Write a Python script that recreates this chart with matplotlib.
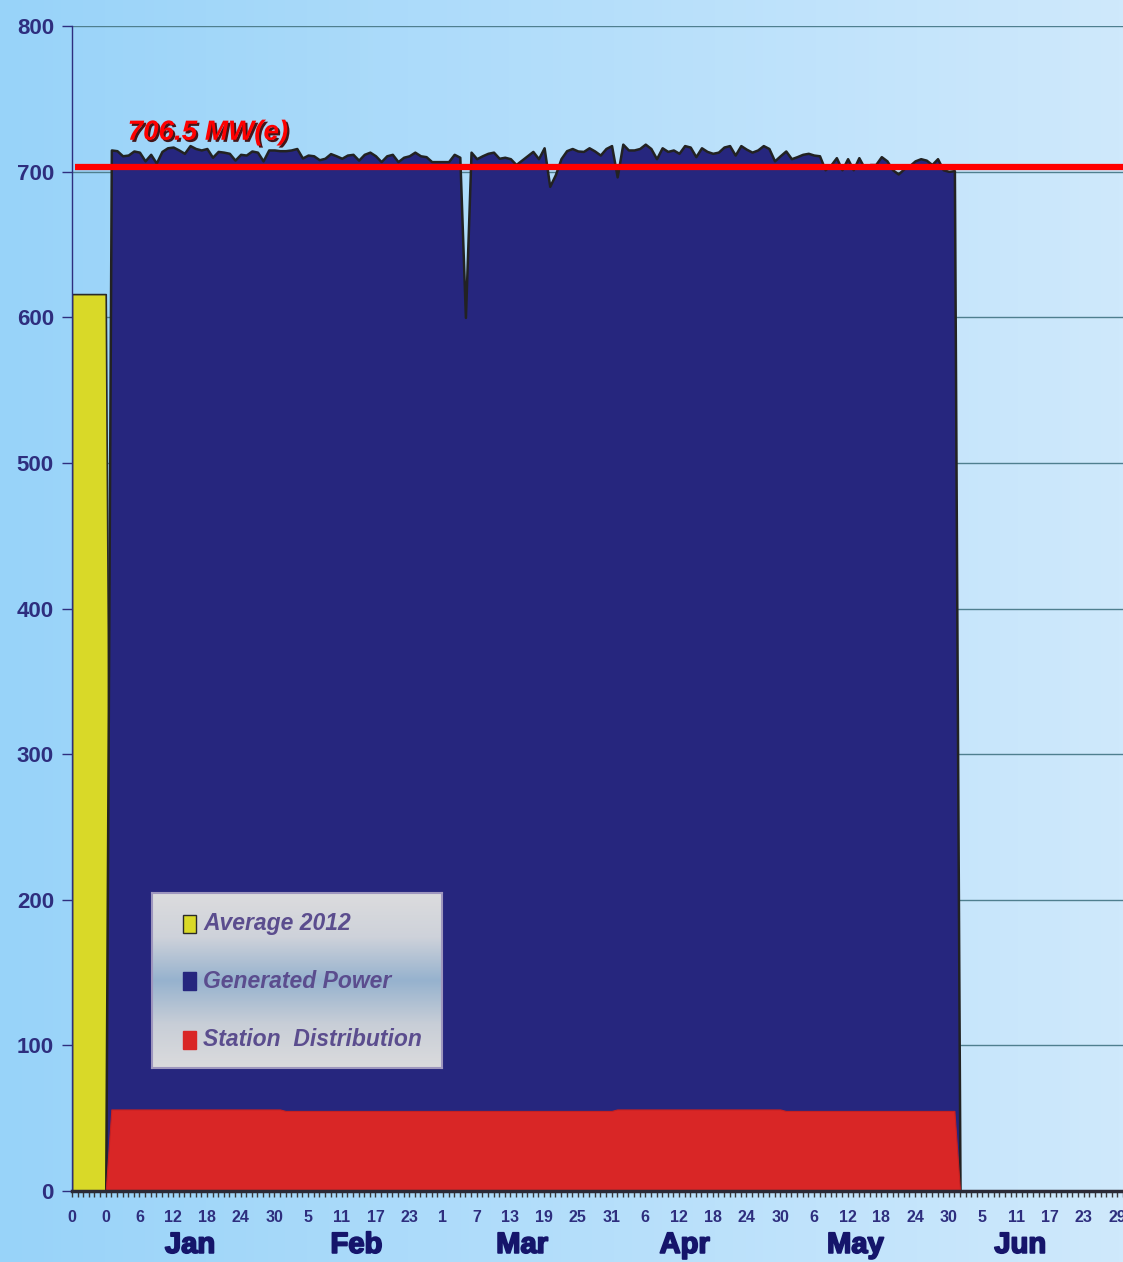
import numpy as np
import pandas as pd
import matplotlib
matplotlib.use("Agg")
import matplotlib.pyplot as plt
from matplotlib.patches import Rectangle
import matplotlib.patheffects as pe

# ---- данные (читались с картинки) ----
avg_2012_value = 616          # Average 2012, первые 7 позиций
avg_2012_len = 7

gen_jan = [715, 714.5, 711, 711.5, 714.3, 713.5, 707.5, 712, 706, 714, 716.5, 717, 715, 712.7, 718, 716,
           715, 716, 710, 714, 713.5, 712.7, 708, 712, 711.5, 714.3, 713.5, 707.5, 715, 715, 714.5]
gen_feb = [714.5, 715, 716, 709.5, 711.5, 711, 708.3, 709.3, 712.5, 711, 709.3, 711.5, 712, 708, 712, 713.5,
           711, 707, 711, 712, 707, 710, 711, 713.5, 711, 710.4, 707, 707]
gen_mar = [707, 707, 712, 710, 600, 713.5, 709, 711, 712.7, 713.5, 709.3, 710, 709, 705, 708, 711,
           714, 709, 716.5, 690, 698, 709, 714.5, 716, 714.3, 714, 716.5, 714.3, 711.5, 716, 718]
gen_apr = [696.5, 719, 715, 715, 716, 719, 716, 709, 716.5, 714, 715, 712.7, 718, 717, 710.4, 716.5,
           714, 712.7, 713.5, 717, 718, 711.5, 718, 715.5, 713.5, 715, 718, 716, 707.5, 711]
gen_may = [714.3, 709, 710.4, 712, 712.7, 711.5, 711, 701.4, 704.6, 709.7, 701.4, 709, 701.4, 709.7, 702.5, 705,
           705, 710.4, 707.5, 701.4, 698.5, 702, 704.2, 707.5, 709, 708, 705, 709, 701.4, 700.3, 700.8]

station_monthly = [56, 55, 55, 56, 55]   # Jan..May
jun_days = 30                            # июнь без данных (0)

ref_level = 703.5
ref_label = "706.5 MW(e)"

months = ["Jan", "Feb", "Mar", "Apr", "May", "Jun"]
month_label_pos = [21, 50.6, 80.1, 109, 139.4, 168.7]

# ---- сборка рядов ----
gen_months = [gen_jan, gen_feb, gen_mar, gen_apr, gen_may]
generated = [0] * avg_2012_len
station = [0] * avg_2012_len
for vals, st in zip(gen_months, station_monthly):
    generated += vals
    station += [st] * len(vals)
generated += [0] * jun_days
station += [0] * jun_days
n = len(generated)
average = [avg_2012_value] * avg_2012_len + [0] * (n - avg_2012_len)
x = np.arange(n)

dates = pd.date_range("2013-01-01", periods=n - avg_2012_len)
day_labels = ["0"] * avg_2012_len + [str(d.day) for d in dates]

# ---- шрифты ----
sans = ["Liberation Sans", "DejaVu Sans"]
navy = "#2E2E7E"

fig = plt.figure(figsize=(11.23, 12.62), dpi=100)

# фон-градиент
bg = fig.add_axes([0, 0, 1, 1], zorder=-1)
t = np.linspace(0, 1, 256)
c_left = np.array([152, 211, 249]) / 255
c_right = np.array([207, 233, 252]) / 255
img = c_left[None, :] + t[:, None] * (c_right - c_left)[None, :]
bg.imshow(img[None, :, :], aspect="auto", extent=[0, 1, 0, 1])
bg.axis("off")

ax = fig.add_axes([72 / 1123, 1 - 1191 / 1262, 1051 / 1123, (1191 - 26.2) / 1262])
ax.set_facecolor("none")

ax.fill_between(x, average, color="#D9D928", edgecolor="#2A2A2A", lw=1.2, zorder=2)
ax.fill_between(x, generated, color="#26267E", edgecolor="#222222", lw=1.8, zorder=3)
ax.fill_between(x, station, color="#D92626", edgecolor="#C82020", lw=0.8, zorder=4)

xmax = (1123 - 72) / 5.64
ax.hlines(ref_level, 0.5, xmax + 2, color="#FF0000", lw=4.5, zorder=5)
ax.text(9.9, 722, ref_label, color="#FF0000", fontsize=20, fontweight="bold", fontstyle="italic",
        family=sans, ha="left", va="baseline", zorder=6,
        path_effects=[pe.withSimplePatchShadow(offset=(1.5, -1.5), shadow_rgbFace="#3A0000", alpha=0.9)])

ax.set_xlim(0, xmax)
ax.set_ylim(0, 800)

# сетка
ax.set_yticks(range(0, 801, 100))
ax.yaxis.grid(True, color="#4F7F8F", lw=1)
ax.set_axisbelow(True)

for s in ["top", "right"]:
    ax.spines[s].set_visible(False)
ax.spines["left"].set_color(navy)
ax.spines["left"].set_linewidth(1)
ax.spines["bottom"].set_color("#2A2A36")
ax.spines["bottom"].set_linewidth(2.5)
ax.spines["bottom"].set_zorder(7)

ax.tick_params(axis="y", direction="out", length=7, width=1, color=navy, pad=6,
               labelsize=16, labelcolor=navy)
for lab in ax.get_yticklabels():
    lab.set_fontweight("bold")
    lab.set_family(sans)

ax.set_xticks(x[::6])
ax.set_xticklabels(day_labels[::6])
ax.set_xticks(x, minor=True)
ax.tick_params(axis="x", which="both", direction="out", length=4, width=1, color="#3A3A3A")
ax.tick_params(axis="x", which="major", pad=10, labelsize=11.5, labelcolor=navy)
for lab in ax.get_xticklabels():
    lab.set_fontweight("bold")
    lab.set_family(sans)

for m, p in zip(months, month_label_pos):
    ax.text(p, -37, m, color="#15156B", fontsize=21, fontweight="bold",
            family=sans, ha="center", va="center", clip_on=False,
            path_effects=[pe.withStroke(linewidth=1.3, foreground="#15156B")])

# легенда (собрана вручную, с градиентом как в оригинале)
lg = fig.add_axes([152 / 1123, 1 - 1068 / 1262, 290 / 1123, 175 / 1262], zorder=5)
stops = np.array([[220, 220, 222], [206, 210, 218], [150, 178, 206], [200, 206, 215], [219, 219, 221]]) / 255
pos = np.linspace(0, 1, len(stops))
tt = np.linspace(0, 1, 200)
grad = np.stack([np.interp(tt, pos, stops[:, k]) for k in range(3)], axis=1)
lg.imshow(grad[:, None, :], aspect="auto", extent=[0, 1, 0, 1])
lg.set_xlim(0, 1)
lg.set_ylim(0, 1)
lg.set_xticks([])
lg.set_yticks([])
for s in lg.spines.values():
    s.set_color("#9E96BE")
    s.set_linewidth(1.5)

leg_items = [("Average 2012", "#D9D928", "#2A2A2A"),
             ("Generated Power", "#26267E", "#26267E"),
             ("Station  Distribution", "#D92626", "#D92626")]
leg_y = [0.823, 0.497, 0.16]
for (name, fc, ec), yy in zip(leg_items, leg_y):
    lg.add_patch(Rectangle((0.107, yy - 0.052), 0.045, 0.104, facecolor=fc, edgecolor=ec, lw=1,
                           transform=lg.transAxes))
    lg.text(0.176, yy, name, color="#5B4D8E", fontsize=16.5, fontstyle="italic", fontweight="bold",
            family=sans, ha="left", va="center", transform=lg.transAxes)

fig.savefig("out.png", dpi=100)
